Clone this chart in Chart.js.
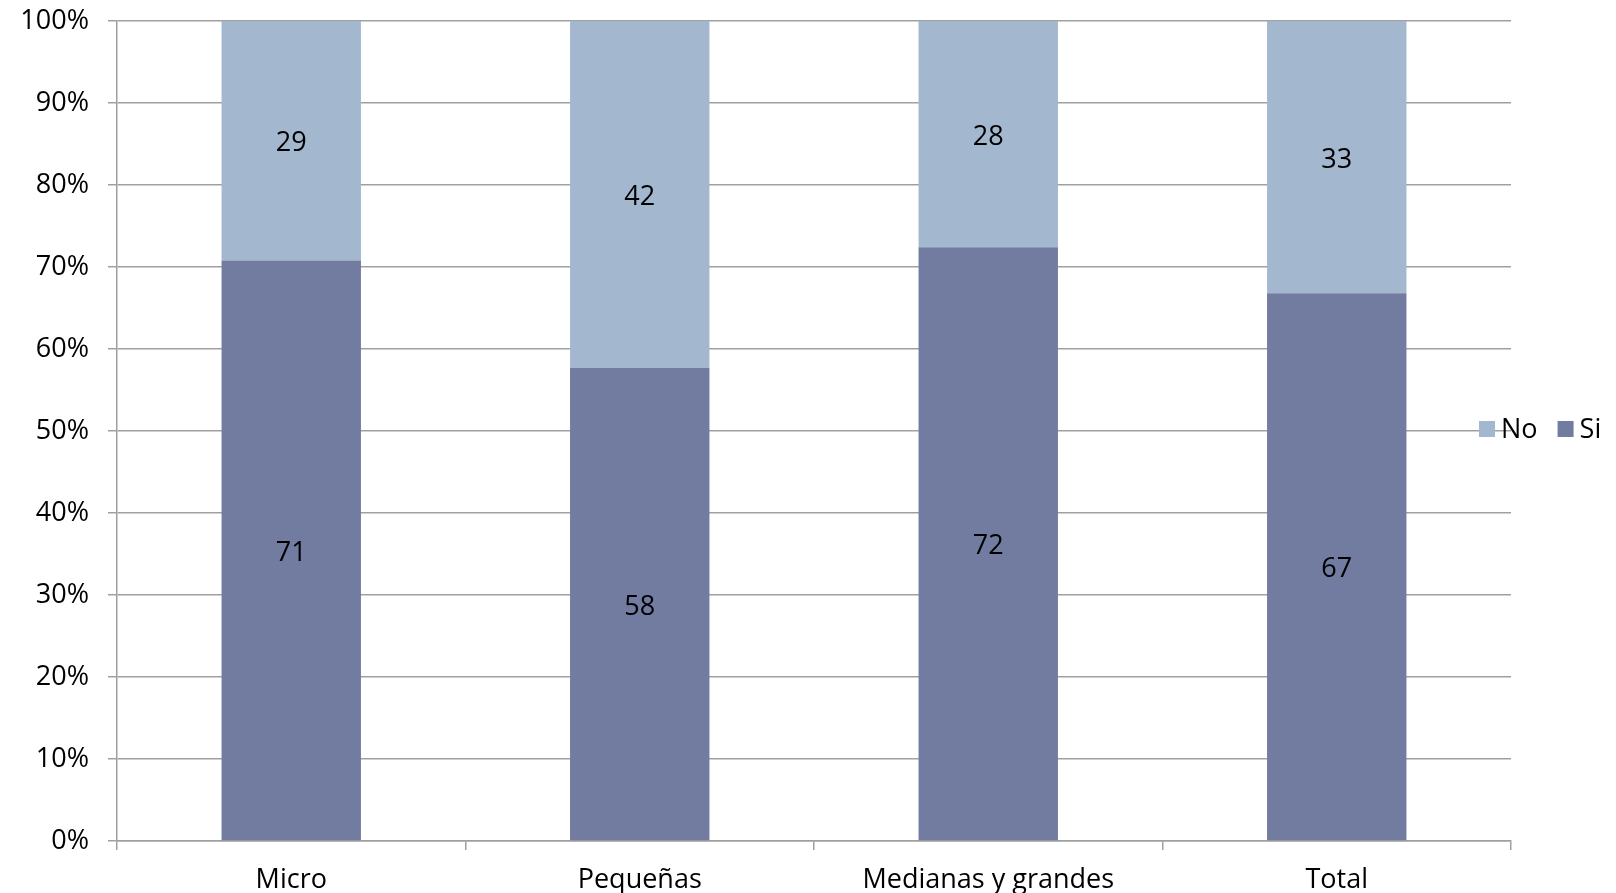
<!DOCTYPE html>
<html><head><meta charset="utf-8">
<script src="https://cdn.jsdelivr.net/npm/chart.js@4/dist/chart.umd.min.js"></script>
<style>html,body{margin:0;padding:0;background:#fff}#wrap{width:1616px;height:893px;position:relative}</style>
</head><body><div id="wrap"><canvas id="c"></canvas></div>
<script>
const categories = ["Micro", "Pequeñas", "Medianas y grandes", "Total"];
const siValues = [70.8, 57.7, 72.4, 66.8];
const noValues = [29.2, 42.3, 27.6, 33.2];
const yTickLabels = ["0%","10%","20%","30%","40%","50%","60%","70%","80%","90%","100%"];
const FONT = "'Open Sans', sans-serif";
const FSIZE = 27;

const valueLabels = {
  id: 'valueLabels',
  afterDatasetsDraw(chart) {
    const ctx = chart.ctx;
    ctx.save();
    ctx.font = FSIZE + "px " + FONT;
    ctx.fillStyle = "#000";
    ctx.textAlign = "center";
    ctx.textBaseline = "middle";
    chart.data.datasets.forEach((ds, i) => {
      chart.getDatasetMeta(i).data.forEach((el, j) => {
        ctx.fillText(String(Math.round(ds.data[j])), el.x, (el.y + el.base) / 2 + 3);
      });
    });
    ctx.restore();
  }
};
const customLegend = {
  id: 'customLegend',
  afterDraw(chart) {
    const ctx = chart.ctx;
    ctx.save();
    ctx.font = FSIZE + "px " + FONT;
    ctx.textBaseline = "middle";
    let x = 1479;
    const y = 429;
    const items = chart.data.datasets.slice().reverse();
    items.forEach(ds => {
      ctx.fillStyle = ds.backgroundColor;
      ctx.fillRect(x, y - 8, 16, 16);
      ctx.fillStyle = "#000";
      ctx.textAlign = "left";
      ctx.fillText(ds.label, x + 22, y + 1);
      x += 22 + ctx.measureText(ds.label).width + 20;
    });
    ctx.restore();
  }
};

new Chart(document.getElementById('c'), {
  type: 'bar',
  data: {
    labels: categories,
    datasets: [
      { label: "Si", data: siValues, backgroundColor: "#727BA0", borderWidth: 0 },
      { label: "No", data: noValues, backgroundColor: "#A3B8CF", borderWidth: 0 }
    ]
  },
  options: {
    responsive: true,
    maintainAspectRatio: false,
    animation: false,
    devicePixelRatio: 1,
    layout: { padding: { top: 21, right: 105, left: 0, bottom: 0 } },
    plugins: { legend: { display: false }, tooltip: { enabled: false } },
    datasets: { bar: { categoryPercentage: 0.4, barPercentage: 1.0 } },
    scales: {
      x: {
        stacked: true,
        grid: { offset: true, drawOnChartArea: false, drawTicks: true, tickLength: 9, color: "#A0A0A0", lineWidth: 1.5 },
        border: { color: "#A0A0A0", width: 1.5 },
        ticks: { color: "#000", font: { family: FONT, size: FSIZE }, padding: 14, maxRotation: 0 },
        afterFit(s) { s.height = 52; s.paddingLeft = 0; s.paddingRight = 0; }
      },
      y: {
        stacked: true,
        min: 0, max: 100,
        grid: { color: "#A0A0A0", lineWidth: 1.5, tickLength: 9 },
        border: { color: "#A0A0A0", width: 1.5 },
        ticks: {
          stepSize: 10, color: "#000", font: { family: FONT, size: FSIZE }, padding: 19,
          callback: (v) => yTickLabels[Math.round(v / 10)]
        },
        afterFit(s) { s.width = 117; s.paddingTop = 0; s.paddingBottom = 0; }
      }
    }
  },
  plugins: [valueLabels, customLegend]
});
</script></body></html>
